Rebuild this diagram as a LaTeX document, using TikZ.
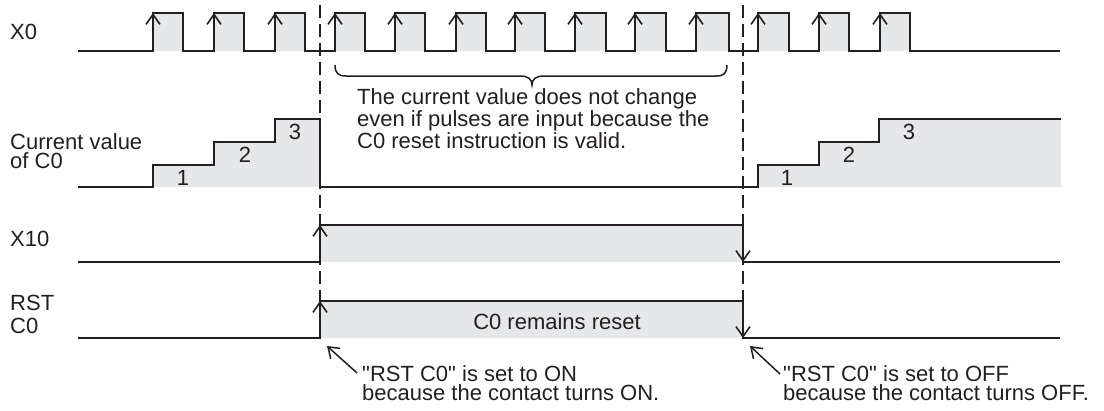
\documentclass[tikz,border=0pt]{standalone}
\usepackage{fontspec}
\setmainfont{Liberation Sans}[Ligatures=TeXOff]
\usetikzlibrary{arrows.meta}
\definecolor{ink}{HTML}{231F20}
\definecolor{shade}{HTML}{E6E7E8}
\begin{document}
\begin{tikzpicture}[x=1pt,y=-1pt,
  sig/.style={draw=ink,line width=2.2pt,line join=miter},
  shadebox/.style={fill=shade,draw=none},
  edgearrow/.style={draw=ink,line width=2.2pt,-{Straight Barb[length=10pt,width=14pt,line width=1.6pt]}},
  guide/.style={draw=ink,line width=2pt,dash pattern=on 13pt off 6pt},
  brace/.style={draw=ink,line width=1.5pt},
  callout/.style={draw=ink,line width=1.5pt,-{Straight Barb[length=10pt,width=14pt,line width=1.5pt]}},
  txt/.style={font=\fontsize{22}{19}\selectfont,text=ink,inner sep=0pt},
]
\useasboundingbox (0,0) rectangle (1104,410);

% ---------- X0 ----------
\foreach \r/\f in {153/183,214/244,275/305,335/365,395/425,456/486,515/545,575/606,635/666,696/729,758/789,819/849,880/910}
  \fill[shadebox] (\r,13) rectangle (\f,51);
\draw[sig] (78,51)
  foreach \r/\f in {153/183,214/244,275/305,335/365,395/425,456/486,515/545,575/606,635/666,696/729,758/789,819/849,880/910}
  { -- (\r,51) -- (\r,13) -- (\f,13) -- (\f,51) } -- (1060,51);
\foreach \r in {153,214,275,335,395,456,515,575,635,696,758,819,880}
  \draw[edgearrow] (\r,40) -- (\r,13);

% brace
\draw[brace] (335,65) .. controls (335,73) and (338,76) .. (346,76) -- (520,76)
  .. controls (528,76) and (532,79) .. (532,85)
  .. controls (532,79) and (536,76) .. (544,76) -- (716,76)
  .. controls (724,76) and (727,73) .. (727,65);

% ---------- Current value ----------
\fill[shadebox] (153,187) -- (153,165) -- (214,165) -- (214,142) -- (275,142) -- (275,119) -- (320,119) -- (320,187) -- cycle;
\fill[shadebox] (758,187) -- (758,165) -- (819,165) -- (819,142) -- (879,142) -- (879,119) -- (1061,119) -- (1061,187) -- cycle;
\draw[sig] (78,187) -- (153,187) -- (153,165) -- (214,165) -- (214,142) -- (275,142) -- (275,119) -- (320,119) -- (320,187)
  -- (758,187) -- (758,165) -- (819,165) -- (819,142) -- (879,142) -- (879,119) -- (1061,119);

% ---------- X10 ----------
\fill[shadebox] (320,225) rectangle (743,262);
\draw[sig] (78,262) -- (320,262) -- (320,225) -- (743,225) -- (743,262) -- (1060,262);
\draw[edgearrow] (320,250) -- (320,225);
\draw[edgearrow] (743,237) -- (743,262);

% ---------- RST C0 ----------
\fill[shadebox] (320,301) rectangle (743,338);
\draw[sig] (78,338) -- (320,338) -- (320,301) -- (743,301) -- (743,338) -- (1060,338);
\draw[edgearrow] (320,326) -- (320,301);
\draw[edgearrow] (743,313) -- (743,338);

% dashed guides
\draw[guide] (320,5) -- (320,301);
\draw[guide] (743,5) -- (743,301);

% ---------- labels (multi-line nodes: base = last line) ----------
\node[txt,anchor=base west] (lx0) at (10,39) {X0};
\node[txt,anchor=base west,align=left] (lcv) at (10,168) {Current value\\of C0};
\node[txt,anchor=base west] (lx10) at (10,246) {X10};
\node[txt,anchor=base west,align=left,font=\fontsize{22}{22.7}\selectfont] (lrst) at (10,333) {RST\\C0};

\node[txt,anchor=base] (n1a) at (183,185) {1};
\node[txt,anchor=base] (n2a) at (245,162) {2};
\node[txt,anchor=base] (n3a) at (295,139) {3};
\node[txt,anchor=base] (n1b) at (787,185) {1};
\node[txt,anchor=base] (n2b) at (849,162) {2};
\node[txt,anchor=base] (n3b) at (909,139) {3};

\node[txt,anchor=base west,align=left,font=\fontsize{22}{17.5}\selectfont] (note) at (357,148)
  {The current value does not change\\even if pulses are input because the\\C0 reset instruction is valid.};

\node[txt,anchor=base] (remain) at (557,329) {C0 remains reset};

\node[txt,anchor=base west,align=left] (onnote) at (362,400)
  {"RST C0" is set to ON\\because the contact turns ON.};
\node[txt,anchor=base west,align=left] (offnote) at (783,400)
  {"RST C0" is set to OFF\\because the contact turns OFF.};

\coordinate (ontip) at (327,346);
\coordinate (offtip) at (750,346);
\coordinate (onfrom) at (357,373);
\coordinate (offfrom) at (780,374);
\draw[callout] (onfrom) -- (ontip);
\draw[callout] (offfrom) -- (offtip);
\end{tikzpicture}
\end{document}
